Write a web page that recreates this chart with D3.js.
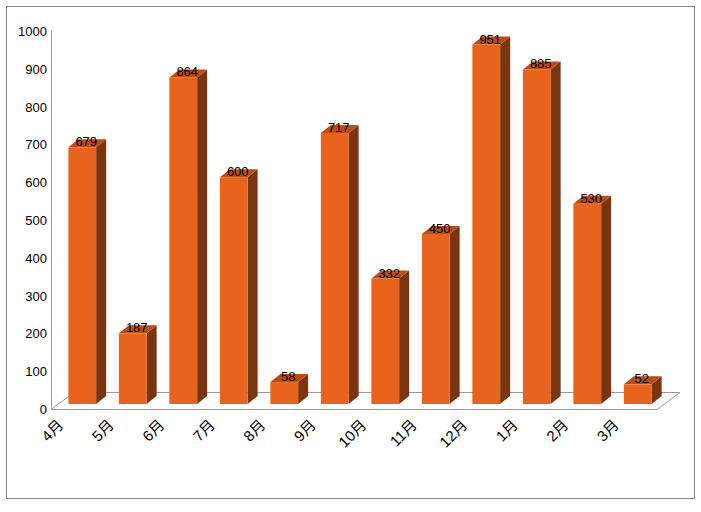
<!DOCTYPE html>
<html><head><meta charset="utf-8">
<script src="https://cdn.jsdelivr.net/npm/d3@7"></script>
<style>body{margin:0;background:#fff}svg{display:block}</style>
</head><body>
<script>
const months = ["4月","5月","6月","7月","8月","9月","10月","11月","12月","1月","2月","3月"];
const values = [679,187,864,600,58,717,332,450,951,885,530,52];
const yTicks = [0,100,200,300,400,500,600,700,800,900,1000];

const W = 701, H = 512;
const svg = d3.select("body").append("svg").attr("width", W).attr("height", H);
const font = "'Liberation Sans', Arial, 'Noto Sans CJK JP', sans-serif";

svg.append("rect").attr("x",6.5).attr("y",6.5).attr("width",688).attr("height",492)
  .attr("fill","#fff").attr("stroke","#888").attr("stroke-width",1);

const x = d3.scaleBand().domain(months).range([51,657]).paddingInner(0.45).paddingOuter(0.225);
const y = d3.scaleLinear().domain([0,1000]).range([409,31]);

const fdx = 23, fdy = -17;   // floor depth
const bdx = 6, bdy = -5;     // bar offset into depth
const sdx = 10, sdy = -8;    // bar depth

// floor
const x0 = 51, x1 = 657, yf = y(0);
svg.append("path")
  .attr("d", `M${x0},${yf+0.5} L${x0+fdx},${yf+fdy+0.5} L${x1+fdx},${yf+fdy+0.5} L${x1},${yf+0.5} Z`)
  .attr("fill","none").attr("stroke","#999").attr("stroke-width",1);

// y axis
svg.append("line").attr("x1",51.5).attr("x2",51.5).attr("y1",y(1000)).attr("y2",y(0))
  .attr("stroke","#999");
svg.append("g").selectAll("text").data(yTicks).join("text")
  .attr("x",47).attr("y",d=>y(d)+5).attr("text-anchor","end")
  .attr("font-family",font).attr("font-size",13).attr("fill","#000").text(d=>d);

// bars
const g = svg.append("g");
months.forEach((m,i)=>{
  const v = values[i];
  const bx = x(m) + bdx, bw = x.bandwidth();
  const yb = y(0) + bdy, yt = y(v) + bdy;
  g.append("path").attr("d",`M${bx+bw},${yt} L${bx+bw+sdx},${yt+sdy} L${bx+bw+sdx},${yb+sdy} L${bx+bw},${yb} Z`)
    .attr("fill","#7a3410");
  g.append("path").attr("d",`M${bx},${yt} L${bx+sdx},${yt+sdy} L${bx+bw+sdx},${yt+sdy} L${bx+bw},${yt} Z`)
    .attr("fill","#b94d17");
  g.append("rect").attr("x",bx).attr("y",yt).attr("width",bw).attr("height",yb-yt)
    .attr("fill","#e8641e");
  g.append("text").attr("x",bx+bw/2+4).attr("y",yt-1).attr("text-anchor","middle")
    .attr("font-family",font).attr("font-size",13).attr("fill","#000").text(v);
});

// x labels
svg.append("g").selectAll("text").data(months).join("text")
  .attr("transform",d=>`translate(${x(d)+x.bandwidth()/2+bdx-18},${426}) rotate(-45)`)
  .attr("text-anchor","end")
  .attr("font-family",font).attr("font-size",15).attr("fill","#000").text(d=>d);
</script>
</body></html>
